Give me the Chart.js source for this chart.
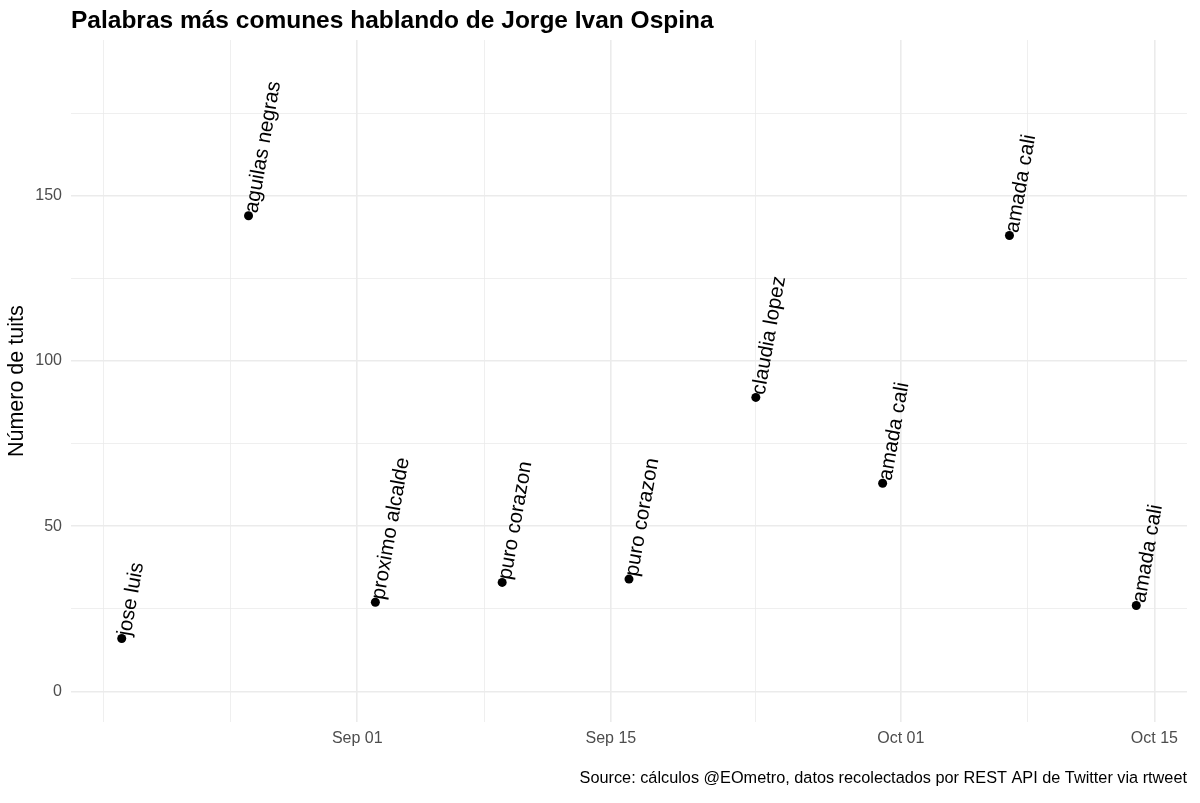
<!DOCTYPE html>
<html>
<head>
<meta charset="utf-8">
<script src="https://cdn.jsdelivr.net/npm/chart.js@4.4.1/dist/chart.umd.min.js"></script>
<style>
  html, body { margin: 0; background: #fff; }
  #wrap { width: 1200px; height: 803px; }
</style>
</head>
<body>
<div id="wrap"><canvas id="words-chart"></canvas></div>
<script>
// data (one point per week)
const dates = ['2019-08-19', '2019-08-26', '2019-09-02', '2019-09-09', '2019-09-16', '2019-09-23', '2019-09-30', '2019-10-07', '2019-10-14'];
const counts = [16, 144, 27, 33, 34, 89, 63, 138, 26];
const words = ['jose luis', 'aguilas negras', 'proximo alcalde', 'puro corazon', 'puro corazon', 'claudia lopez', 'amada cali', 'amada cali', 'amada cali'];

const xTickDates = ['2019-09-01', '2019-09-15', '2019-10-01', '2019-10-15'];
const xTickLabels = ['Sep 01', 'Sep 15', 'Oct 01', 'Oct 15'];
const xMinorDates = ['2019-08-18', '2019-08-25', '2019-09-08', '2019-09-23', '2019-10-08'];
const yTicks = [0, 50, 100, 150];
const yMinor = [25, 75, 125, 175];

const FONT = '"Liberation Sans", Arial, Helvetica, sans-serif';
const dayNum = d => Date.parse(d) / 86400000;

const xs = dates.map(dayNum);
const xMajor = xTickDates.map(dayNum);
const xMinor = xMinorDates.map(dayNum);
const xSpan = Math.max(...xs) - Math.min(...xs);

// rotated word labels, starting just past each point
const wordLabels = {
  id: 'wordLabels',
  afterDatasetsDraw(chart) {
    const ctx = chart.ctx;
    const meta = chart.getDatasetMeta(0);
    ctx.save();
    ctx.font = '20.5px ' + FONT;
    ctx.fillStyle = '#000';
    ctx.textAlign = 'left';
    ctx.textBaseline = 'middle';
    meta.data.forEach((pt, i) => {
      ctx.save();
      ctx.translate(pt.x, pt.y);
      ctx.rotate(-80 * Math.PI / 180);
      ctx.fillText(words[i], 3.5, 2.5);
      ctx.restore();
    });
    ctx.restore();
  }
};

const ctx = document.getElementById('words-chart').getContext('2d');
new Chart(ctx, {
  type: 'scatter',
  data: {
    datasets: [{
      label: 'Número de tuits',
      data: xs.map((x, i) => ({ x: x, y: counts[i] })),
      backgroundColor: '#000',
      borderWidth: 0,
      pointRadius: 4.5,
      pointHoverRadius: 4.5
    }]
  },
  options: {
    responsive: true,
    maintainAspectRatio: false,
    animation: false,
    layout: { padding: { left: 0, right: 13, top: 0, bottom: 0 } },
    scales: {
      x: {
        type: 'linear',
        min: Math.min(...xs) - 0.05 * xSpan,
        max: Math.max(...xs) + 0.05 * xSpan,
        afterBuildTicks: axis => {
          axis.ticks = xMajor.concat(xMinor).sort((a, b) => a - b).map(v => ({ value: v }));
        },
        afterFit: axis => { axis.height = 42; },
        border: { display: false },
        grid: {
          drawTicks: false,
          color: '#EBEBEB',
          lineWidth: c => (c.tick && xMajor.includes(c.tick.value)) ? 1.6 : 0.8
        },
        ticks: {
          autoSkip: false,
          maxRotation: 0,
          padding: 7,
          color: '#4D4D4D',
          font: { family: FONT, size: 16 },
          callback: v => {
            const i = xMajor.indexOf(v);
            return i >= 0 ? xTickLabels[i] : '';
          }
        }
      },
      y: {
        min: -9.4,
        max: 197.2,
        afterBuildTicks: axis => {
          axis.ticks = yTicks.concat(yMinor).sort((a, b) => a - b).map(v => ({ value: v }));
        },
        afterFit: axis => { axis.width = 71; },
        border: { display: false },
        grid: {
          drawTicks: false,
          color: '#EBEBEB',
          lineWidth: c => (c.tick && yTicks.includes(c.tick.value)) ? 1.6 : 0.8
        },
        ticks: {
          padding: 9,
          color: '#4D4D4D',
          font: { family: FONT, size: 16 },
          callback: v => yTicks.includes(v) ? String(v) : ''
        },
        title: {
          display: true,
          text: 'Número de tuits',
          color: '#000',
          font: { family: FONT, size: 21.5 },
          padding: { top: 4.5, bottom: 0 }
        }
      }
    },
    plugins: {
      legend: { display: false },
      tooltip: { enabled: false },
      title: {
        display: true,
        text: 'Palabras más comunes hablando de Jorge Ivan Ospina',
        align: 'start',
        fullSize: false,
        color: '#000',
        font: { family: FONT, size: 24.5, weight: 'bold' },
        padding: { top: 7, bottom: 3.6 }
      },
      subtitle: {
        display: true,
        position: 'bottom',
        text: 'Source: cálculos @EOmetro, datos recolectados por REST API de Twitter via rtweet',
        align: 'end',
        fullSize: false,
        color: '#000',
        font: { family: FONT, size: 16.3 },
        padding: { top: 4, bottom: 15 }
      }
    }
  },
  plugins: [wordLabels]
});
</script>
</body>
</html>
